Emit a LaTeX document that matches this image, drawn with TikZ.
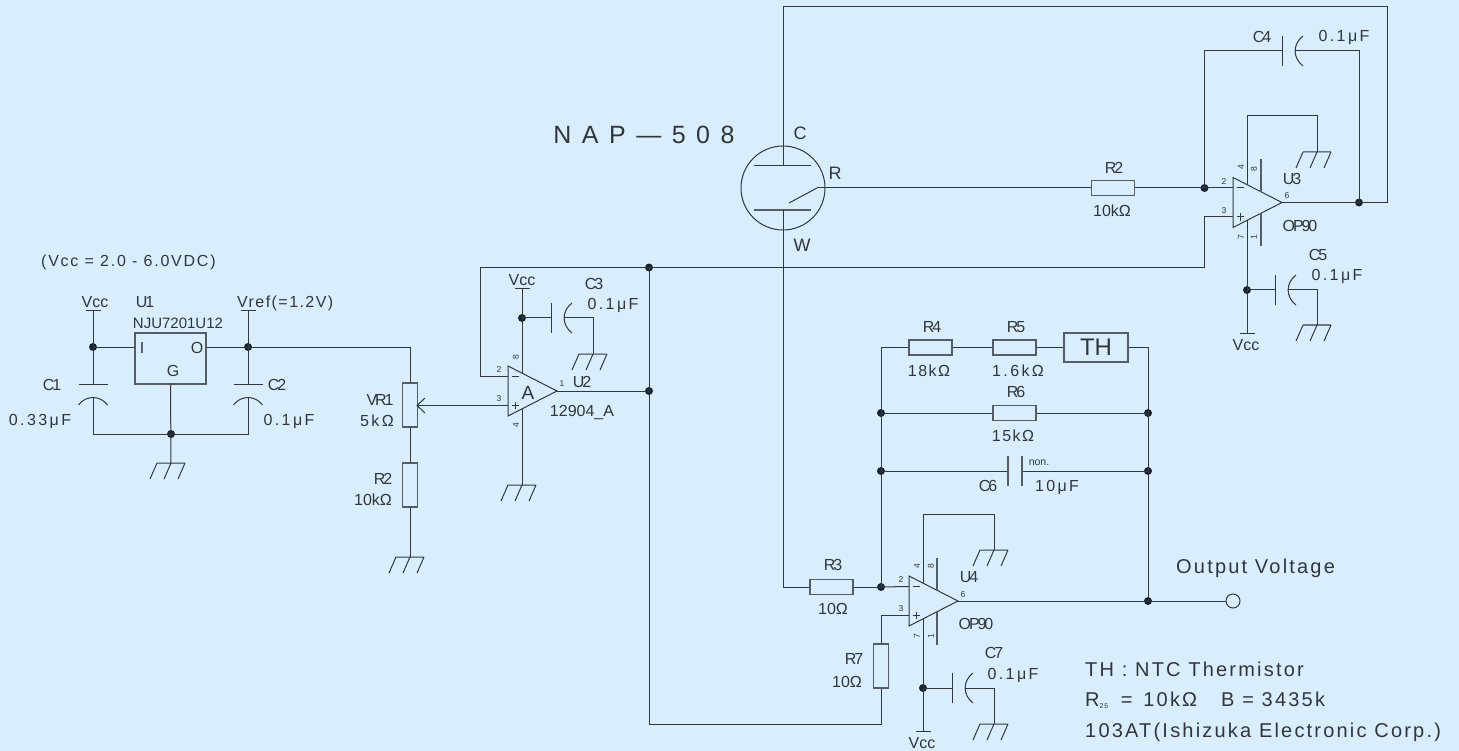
\documentclass[tikz,border=0pt]{standalone}
\usepackage{fontspec}
\setmainfont{Liberation Sans}
\newfontfamily\trkA[LetterSpace=11]{Liberation Sans}
\newfontfamily\trkB[LetterSpace=42]{Liberation Sans}
\newfontfamily\trkV[LetterSpace=15]{Liberation Sans}
\newfontfamily\trkD[LetterSpace=9]{Liberation Sans}
\newfontfamily\trkC[LetterSpace=-13]{Liberation Sans}
\definecolor{bgc}{RGB}{216,238,252}
\definecolor{wirec}{RGB}{50,56,62}
\definecolor{boxc}{RGB}{85,92,98}
\definecolor{dotc}{RGB}{26,36,46}
\definecolor{txtc}{RGB}{50,54,58}
\newcommand{\szL}{\fontsize{16}{18}\selectfont}
\newcommand{\szP}{\fontsize{8.5}{10}\selectfont}
\newcommand{\szN}{\fontsize{20}{22}\selectfont}
\tikzset{
  wire/.style={draw=wirec,line width=1pt},
  res/.style={rectangle,draw=boxc,line width=1.1pt,minimum width=43pt,minimum height=15pt,inner sep=0pt},
  resv/.style={rectangle,draw=boxc,line width=1.1pt,minimum width=14.5pt,minimum height=44pt,inner sep=0pt},
  jdot/.style={circle,fill=dotc,draw=none,minimum size=8pt,inner sep=0pt},
  lab/.style={text=txtc,font=\szL,inner sep=0pt},
  labv/.style={lab,font=\trkV\szL},
  labd/.style={lab,font=\trkD\szL},
  labc/.style={lab,font=\trkC\szL},
  pinl/.style={text=txtc,font=\szP,inner sep=0pt},
  pinr/.style={pinl,rotate=90},
  gnd/.pic={\draw[wire] (-14,0)--(14,0) (-14,0)--(-21,16) (0,0)--(-7,16) (14,0)--(7,16);},
  vbar/.pic={\draw[wire] (-7.5,0)--(7.5,0);},
  capH/.pic={
    \draw[wire] (0,-15)--(0,15);
    \draw[wire] (21,-15) .. controls (10.5,-7) and (10.5,7) .. (21,15);
    \coordinate (-p) at (0,0);
    \coordinate (-a) at (13,0);},
  capV/.pic={
    \draw[wire] (-14.5,0)--(14.5,0);
    \draw[wire] (-14.5,21) .. controls (-7,11) and (7,11) .. (14.5,21);
    \coordinate (-p) at (0,0);
    \coordinate (-a) at (0,14);},
  opamp/.pic={
    \draw[wire] (0,-25)--(0,25)--(49,0)--cycle;
    \draw[wire] (3.5,-14.5)--(11,-14.5) (3.5,14.5)--(11,14.5) (7.25,10.75)--(7.25,18.25);
    \coordinate (-m) at (0,-14.5);
    \coordinate (-p) at (0,14.5);
    \coordinate (-o) at (49,0);
    \coordinate (-t) at (14,-18);
    \coordinate (-b) at (14,18);},
  plate/.pic={\draw[draw=boxc,line width=1.1pt] (28,-43.5)--(28,-10.7) (28,10.7)--(28,43.5);}
}
\begin{document}
\begin{tikzpicture}[x=1pt,y=-1pt]
\useasboundingbox (0,0) rectangle (1459,751);
\fill[bgc] (0,0) rectangle (1459,751);

% ---- junctions
\node[jdot] (jvcc) at (93,347) {};
\node[jdot] (jvref) at (248,347) {};
\node[jdot] (jgnd) at (171,434) {};
\node[jdot] (jfb) at (649,267.5) {};
\node[jdot] (jout2) at (649,391) {};
\node[jdot] (jc3) at (522,318) {};
\node[jdot] (ju3in) at (1204.5,188) {};
\node[jdot] (ju3out) at (1359,202.5) {};
\node[jdot] (jc5) at (1247,290) {};
\node[jdot] (jl1) at (881,413) {};
\node[jdot] (jr1) at (1148,413) {};
\node[jdot] (jl2) at (881,471) {};
\node[jdot] (jr2) at (1148,471) {};
\node[jdot] (ju4in) at (881,587) {};
\node[jdot] (ju4out) at (1148,601) {};
\node[jdot] (jc7) at (923,688) {};

% ---- free ends, grounds, supply bars
\coordinate (bv1) at (93,311);
\coordinate (bv2) at (248,311);
\coordinate (bv3) at (522,289);
\coordinate (bv4) at (1247,333);
\coordinate (bv5) at (923,731);
\foreach \b in {bv1,bv2,bv3,bv4,bv5} \pic at (\b) {vbar};
\coordinate (g1) at (171,463);
\coordinate (g2) at (410,557);
\coordinate (g3) at (522,485);
\coordinate (g4) at (593,354);
\coordinate (g5) at (1317,152);
\coordinate (g6) at (1317,325);
\coordinate (g7) at (994,550);
\coordinate (g8) at (994,724);
\foreach \g in {g1,g2,g3,g4,g5,g6,g7,g8} \pic at (\g) {gnd};

% ---- U1
\node[rectangle,draw=boxc,line width=1.1pt,minimum width=71pt,minimum height=51pt,inner sep=0pt] (u1) at (170.5,358.5) {};
\pic (c1) at (93,384) {capV};
\pic (c2) at (248,384) {capV};
\draw[wire] (bv1) -- (c1-p);
\draw[wire] (bv2) -- (c2-p);
\draw[wire] (jvcc.center) -- (jvcc.center -| u1.west);
\draw[wire] (jvref.center -| u1.east) -- (jvref.center);
\draw[wire] (c1-a) |- (jgnd.center);
\draw[wire] (c2-a) |- (jgnd.center);
\draw[wire] (u1.south) -- (g1);

% ---- VR1, R2 (left)
\node[resv] (vr1) at (410,405) {};
\node[resv] (r2a) at (410,485) {};
\draw[wire] (jvref.center) -| (vr1.north);
\draw[wire] (vr1.south) -- (r2a.north);
\draw[wire] (r2a.south) -- (g2);

% ---- U2
\pic (u2) at (508,391) {opamp};
\pic (c3) at (551,318) {capH};
\draw[wire] (jfb.center) -- (480,267.5) |- (u2-m);
\draw[wire] (bv3) -- (u2-t);
\draw[wire] (jc3.center) -- (c3-p);
\draw[wire] (c3-a) -| (g4);
\draw[wire] (u2-b) -- (g3);
\draw[wire] (u2-o) -- (jout2.center);
\coordinate (wip) at (417,405.5);
\draw[wire] (u2-p) -- (wip);
\draw[wire] (425,398) -- (wip) -- (425,413);

% ---- NAP-508
\node[circle,draw=wirec,line width=1pt,minimum size=84pt,inner sep=0pt] (nap) at (783,188) {};
\coordinate (ptop) at (783,166);
\coordinate (pbot) at (783,210);
\draw[wire] (754,166) -- (811,166);
\draw[draw=boxc,line width=1.1pt] (754,210) -- (811,210);
\coordinate (rkink) at (817,188);
\draw[wire] (789,203) -- (rkink);

% ---- U3
\pic (u3) at (1233,202.5) {opamp};
\pic at (1233,202.5) {plate};
\node[res] (r2b) at (1113,188) {};
\pic (c4) at (1282,51) {capH};
\pic (c5) at (1275,290) {capH};
\draw[wire] (rkink) -- (r2b.west);
\draw[wire] (r2b.east) -- (ju3in.center);
\draw[wire] (ju3in.center) -- (u3-m);
\draw[wire] (ju3in.center) |- (c4-p);
\draw[wire] (c4-a) -| (ju3out.center);
\draw[wire] (u3-o) -- (ju3out.center);
\draw[wire] (ju3out.center) -- (1387,202.5) -- (1387,7) -| (ptop);
\draw[wire] (u3-p) -- (1204,217) -- (1204,267.5) -- (jfb.center);
\draw[wire] (u3-t) -- (1247,116) -| (g5);
\draw[wire] (u3-b) -- (bv4);
\draw[wire] (jc5.center) -- (c5-p);
\draw[wire] (c5-a) -| (g6);
\draw[wire] (jfb.center) -- (jout2.center);

% ---- feedback of U4
\node[res] (r4) at (930.5,347.5) {};
\node[res] (r5) at (1014.5,347.5) {};
\node[rectangle,draw=boxc,line width=1.1pt,minimum width=64pt,minimum height=29pt,inner sep=0pt] (th) at (1096,347.5) {};
\node[res] (r6) at (1014.5,413) {};
\draw[wire] (jl1.center) |- (r4.west);
\draw[wire] (r4.east) -- (r5.west);
\draw[wire] (r5.east) -- (th.west);
\draw[wire] (th.east) -| (jr1.center);
\draw[wire] (jl1.center) -- (r6.west);
\draw[wire] (r6.east) -- (jr1.center);
\coordinate (c6a) at (1008,471);
\coordinate (c6b) at (1022,471);
\draw[wire] (jl2.center) -- (c6a);
\draw[wire] (c6b) -- (jr2.center);
\draw[draw=boxc,line width=1.1pt] (1008,456) -- (1008,486) (1022,456) -- (1022,486);
\draw[wire] (jl1.center) -- (jl2.center);
\draw[wire] (jl2.center) -- (ju4in.center);
\draw[wire] (jr1.center) -- (jr2.center);
\draw[wire] (jr2.center) -- (ju4out.center);

% ---- U4
\pic (u4) at (909,601) {opamp};
\pic at (909,601) {plate};
\node[res] (r3) at (831.5,587) {};
\node[resv] (r7) at (881,666) {};
\pic (c7) at (952,688) {capH};
\node[circle,draw=wirec,fill=bgc,line width=1pt,minimum size=14pt,inner sep=0pt] (outp) at (1233,601) {};
\draw[wire] (pbot) -- (783,587) -- (r3.west);
\draw[wire] (r3.east) -- (ju4in.center);
\draw[wire] (ju4in.center) -- (u4-m);
\draw[wire] (u4-p) -| (r7.north);
\draw[wire] (r7.south) |- (649,724) -- (jout2.center);
\draw[wire] (u4-t) -- (923,514) -| (g7);
\draw[wire] (u4-b) -- (bv5);
\draw[wire] (jc7.center) -- (c7-p);
\draw[wire] (c7-a) -| (g8);
\draw[wire] (u4-o) -- (ju4out.center);
\draw[wire] (ju4out.center) -- (outp);

% ---- labels, left part
\node[labd,anchor=west,font=\trkD\szL\addfontfeature{LetterSpace=11}] (t1) at (41,262) {(Vcc = 2.0 - 6.0VDC)};
\node[lab] (t2) at (95,302) {Vcc};
\node[labc] (t3) at (145,302) {U1};
\node[lab,font=\fontsize{15}{18}\selectfont] (t4) at (178,323) {NJU7201U12};
\node[lab] (t5) at (142,348) {I};
\node[lab] (t6) at (197,348) {O};
\node[lab] (t7) at (173,371) {G};
\node[labc] (t8) at (52,385) {C1};
\node[labv] (t9) at (40,421) {0.33μF};
\node[labc] (t10) at (277,385) {C2};
\node[labv] (t11) at (289,421) {0.1μF};
\node[labd,anchor=west] (t12) at (237,303) {Vref(=1.2V)};
\node[labc] (t13) at (380,400) {VR1};
\node[labv] (t14) at (377,421) {5kΩ};
\node[labc] (t15) at (383,479) {R2};
\node[lab] (t16) at (373,500) {10kΩ};

% ---- labels, U2
\node[lab] (t17) at (522,280) {Vcc};
\node[labc] (t18) at (594,284) {C3};
\node[labv] (t19) at (613,305) {0.1μF};
\node[labc] (t20) at (582,382) {U2};
\node[lab] (t21) at (582,413) {12904\_A};
\node[lab,font=\fontsize{19}{21}\selectfont] (t22) at (528,393) {A};
\node[pinl] (p1) at (499,370) {2};
\node[pinl] (p2) at (499,399) {3};
\node[pinr] (p3) at (516,357) {8};
\node[pinr] (p4) at (516,425) {4};
\node[pinl] (p5) at (562,384) {1};

% ---- labels, sensor
\node[lab,anchor=center,font=\trkB\fontsize{25}{28}\selectfont] (t23) at (644,135) {NAP—508};
\node[lab,font=\fontsize{18}{20}\selectfont] (t24) at (800,133) {C};
\node[lab,font=\fontsize{18}{20}\selectfont] (t25) at (835,173) {R};
\node[lab,font=\fontsize{18}{20}\selectfont] (t26) at (802,245) {W};

% ---- labels, U3
\node[labc] (t27) at (1114,168) {R2};
\node[lab] (t28) at (1112,211) {10kΩ};
\node[labc] (t29) at (1262,37) {C4};
\node[labv] (t30) at (1344,37) {0.1μF};
\node[labc] (t31) at (1292,179) {U3};
\node[labc] (t32) at (1300,226) {OP90};
\node[labc] (t33) at (1318,255) {C5};
\node[labv] (t34) at (1337,276) {0.1μF};
\node[lab] (t35) at (1246,345) {Vcc};
\node[pinl] (p6) at (1224,182) {2};
\node[pinl] (p7) at (1224,211) {3};
\node[pinr] (p8) at (1241,167) {4};
\node[pinr] (p9) at (1254,169) {8};
\node[pinr] (p10) at (1241,237) {7};
\node[pinr] (p11) at (1254,237) {1};
\node[pinl] (p12) at (1287,196) {6};

% ---- labels, feedback and U4
\node[labc] (t36) at (932,327) {R4};
\node[labd] (t37) at (929,371) {18kΩ};
\node[labc] (t38) at (1016,327) {R5};
\node[labv] (t39) at (1018,371) {1.6kΩ};
\node[lab,font=\fontsize{24}{26}\selectfont] (t40) at (th) {TH};
\node[labc] (t41) at (1016,392) {R6};
\node[labd] (t42) at (1013,436) {15kΩ};
\node[labc] (t43) at (988,486) {C6};
\node[lab,font=\fontsize{10.5}{12}\selectfont] (t44) at (1039,463) {non.};
\node[labv] (t45) at (1057,487) {10μF};
\node[labc] (t46) at (833,565) {R3};
\node[lab] (t47) at (833,609) {10Ω};
\node[labc] (t48) at (854,659) {R7};
\node[lab] (t49) at (847,682) {10Ω};
\node[labc] (t50) at (969,577) {U4};
\node[labc] (t51) at (976,624) {OP90};
\node[labc] (t52) at (994,653) {C7};
\node[labv] (t53) at (1013,675) {0.1μF};
\node[lab] (t54) at (922,743) {Vcc};
\node[pinl] (p13) at (901,580) {2};
\node[pinl] (p14) at (901,609) {3};
\node[pinr] (p15) at (917,566) {4};
\node[pinr] (p16) at (931,566) {8};
\node[pinr] (p17) at (917,636) {7};
\node[pinr] (p18) at (931,636) {1};
\node[pinl] (p19) at (963,595) {6};

% ---- notes
\node[lab,anchor=west,font=\trkA\szN] (t55) at (1176,568) {Output Voltage};
\node[lab,anchor=west,font=\trkA\szN] (t56) at (1085,669) {TH : NTC Thermistor};
\node[lab,anchor=west,font=\trkA\szN] (t57) at (1085,700) {R\raisebox{-2pt}{\fontsize{7}{8}\selectfont 25}\hspace{5pt} = \hspace{3pt}10kΩ\hspace{24pt}B = 3435k};
\node[lab,anchor=west,font=\trkA\szN] (t58) at (1085,732) {103AT(Ishizuka Electronic Corp.)};
\end{tikzpicture}
\end{document}
